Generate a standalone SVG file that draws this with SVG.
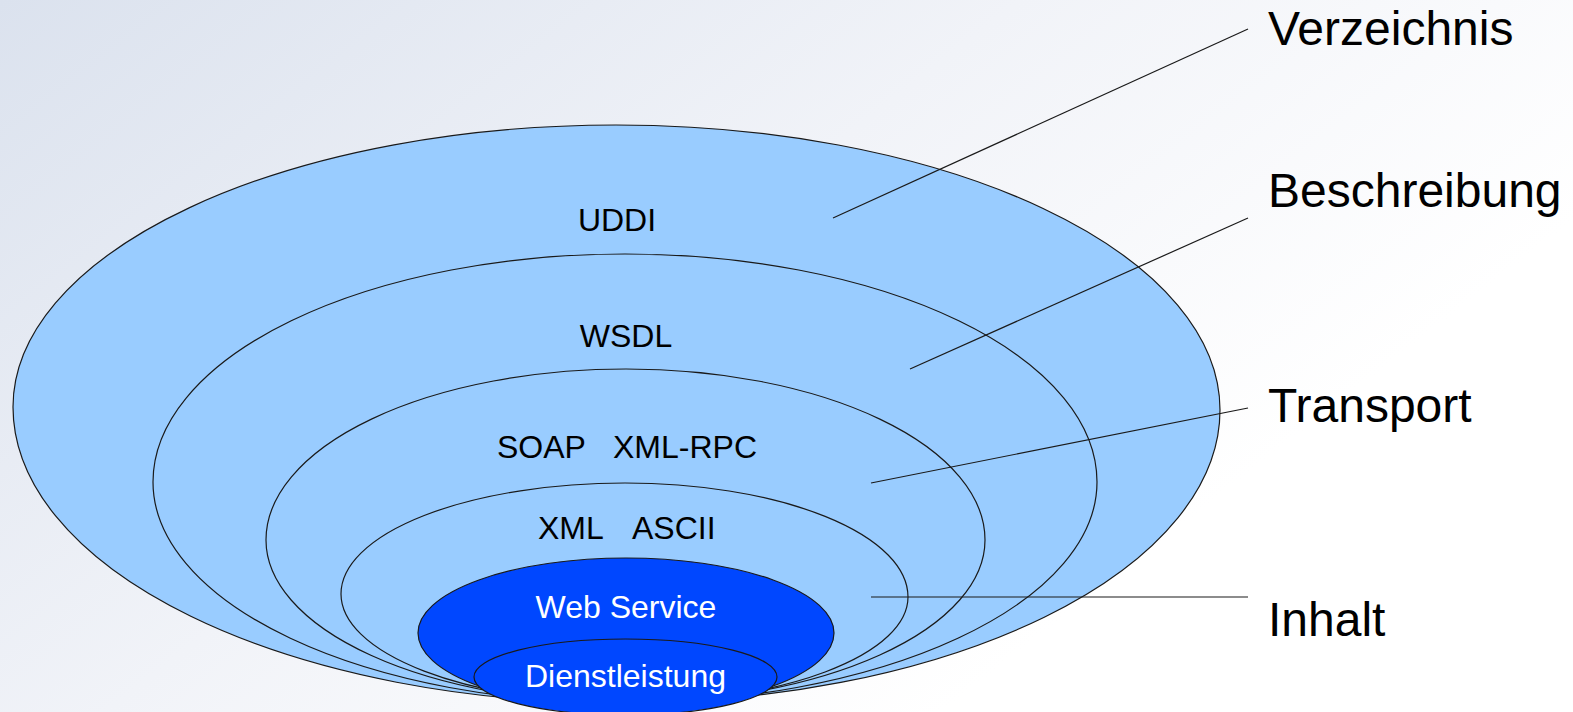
<svg xmlns="http://www.w3.org/2000/svg" width="1573" height="712" viewBox="0 0 1573 712">
<defs>
<linearGradient id="bg" gradientUnits="userSpaceOnUse" x1="0" y1="0" x2="700" y2="900">
<stop offset="0" stop-color="#dbe2ee"/>
<stop offset="0.55" stop-color="#f1f3f8"/>
<stop offset="1" stop-color="#ffffff"/>
</linearGradient>
<style>
.layer{fill:#99ccff;stroke:#1a1a1a;stroke-width:1.2}
.core{fill:#0047ff;stroke:#1a1a1a;stroke-width:1.2}
.t{font-family:"Liberation Sans",Arial,sans-serif;font-size:32px;fill:#000}
.tw{font-family:"Liberation Sans",Arial,sans-serif;font-size:32px;fill:#fff}
.lbl{font-family:"Liberation Sans",Arial,sans-serif;font-size:48px;fill:#000}
.con{stroke:#1a1a1a;stroke-width:1.2;fill:none}
</style>
</defs>
<rect width="1573" height="712" fill="url(#bg)"/>
<g id="uddi">
<path class="layer" d="M13,407 A603,282 0 0 1 616,125 A604,285 0 0 1 1220,410 A600,293 0 0 1 620,703 A607,296 0 0 1 13,407 Z"/>
<text class="t" x="617" y="231" text-anchor="middle">UDDI</text>
</g>
<g id="wsdl">
<path class="layer" d="M153,482 A472,228 0 0 1 625,254 A472,228 0 0 1 1097,482 A475,221 0 0 1 622,703 A469,221 0 0 1 153,482 Z"/>
<text class="t" x="626" y="347" text-anchor="middle">WSDL</text>
</g>
<g id="transport">
<path class="layer" d="M266,540 A360,171 0 0 1 626,369 A359,171 0 0 1 985,540 A361,163 0 0 1 624,703 A358,163 0 0 1 266,540 Z"/>
<text class="t" x="497" y="458">SOAP</text>
<text class="t" x="613" y="458">XML-RPC</text>
</g>
<g id="inhalt">
<path class="layer" d="M341,594 A284,111 0 0 1 625,483 A283,114 0 0 1 908,597 A283,106 0 0 1 625,703 A284,109 0 0 1 341,594 Z"/>
<text class="t" x="538" y="539">XML</text>
<text class="t" x="632" y="539">ASCII</text>
</g>
<g id="webservice">
<ellipse class="core" cx="626" cy="633" rx="208" ry="75"/>
<text class="tw" x="626" y="618" text-anchor="middle">Web Service</text>
</g>
<g id="dienstleistung">
<ellipse class="core" cx="625.5" cy="677" rx="151.5" ry="38"/>
<text class="tw" x="625.5" y="687" text-anchor="middle">Dienstleistung</text>
</g>
<g id="connectors">
<line class="con" x1="833" y1="218" x2="1248" y2="29"/>
<line class="con" x1="910" y1="369" x2="1248" y2="218"/>
<line class="con" x1="871" y1="483" x2="1248" y2="408"/>
<line class="con" x1="871" y1="597" x2="1248" y2="597"/>
</g>
<g id="labels">
<text class="lbl" x="1268" y="45">Verzeichnis</text>
<text class="lbl" x="1268" y="207">Beschreibung</text>
<text class="lbl" x="1268" y="422">Transport</text>
<text class="lbl" x="1268" y="636">Inhalt</text>
</g>
</svg>
